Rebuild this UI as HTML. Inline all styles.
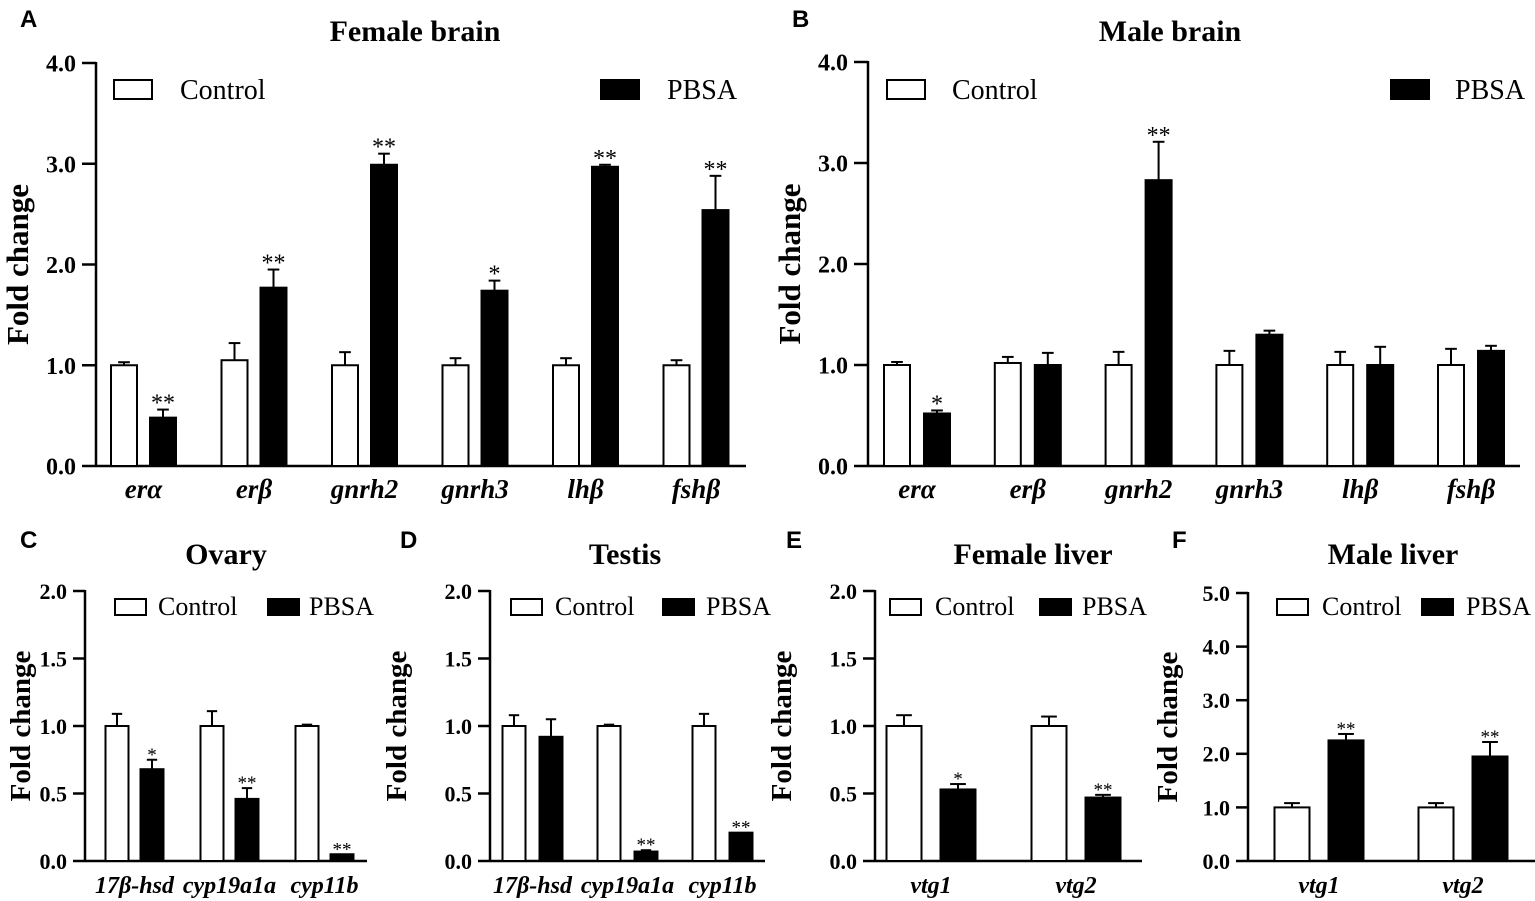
<!DOCTYPE html>
<html><head><meta charset="utf-8"><style>
body{margin:0;background:#fff;}
svg{display:block;font-family:"Liberation Serif",serif;}
</style></head><body>
<svg id="fig" width="1535" height="901" viewBox="0 0 1535 901"></svg>
<script>
// Panel A
const catsA=["erα","erβ","gnrh2","gnrh3","lhβ","fshβ"];
const ctrlA=[1.0,1.05,1.0,1.0,1.0,1.0];
const ctrlErrA=[0.03,0.17,0.13,0.07,0.07,0.05];
const pbsaA=[0.48,1.77,2.99,1.74,2.97,2.54];
const pbsaErrA=[0.08,0.18,0.11,0.10,0.02,0.34];
const sigA=["**","**","**","*","**","**"];
const ticksA=["0.0","1.0","2.0","3.0","4.0"];
// Panel B
const catsB=["erα","erβ","gnrh2","gnrh3","lhβ","fshβ"];
const ctrlB=[1.0,1.02,1.0,1.0,1.0,1.0];
const ctrlErrB=[0.03,0.06,0.13,0.14,0.13,0.16];
const pbsaB=[0.52,1.0,2.83,1.3,1.0,1.14];
const pbsaErrB=[0.03,0.12,0.38,0.04,0.18,0.05];
const sigB=["*","","**","","",""];
const ticksB=["0.0","1.0","2.0","3.0","4.0"];
// Panel C
const catsC=["17β-hsd","cyp19a1a","cyp11b"];
const ctrlC=[1.0,1.0,1.0];
const ctrlErrC=[0.09,0.11,0.01];
const pbsaC=[0.68,0.46,0.05];
const pbsaErrC=[0.07,0.08,0.0];
const sigC=["*","**","**"];
const ticksC=["0.0","0.5","1.0","1.5","2.0"];
// Panel D
const catsD=["17β-hsd","cyp19a1a","cyp11b"];
const ctrlD=[1.0,1.0,1.0];
const ctrlErrD=[0.08,0.01,0.09];
const pbsaD=[0.92,0.07,0.21];
const pbsaErrD=[0.13,0.01,0.0];
const sigD=["","**","**"];
const ticksD=["0.0","0.5","1.0","1.5","2.0"];
// Panel E
const catsE=["vtg1","vtg2"];
const ctrlE=[1.0,1.0];
const ctrlErrE=[0.08,0.07];
const pbsaE=[0.53,0.47];
const pbsaErrE=[0.04,0.02];
const sigE=["*","**"];
const ticksE=["0.0","0.5","1.0","1.5","2.0"];
// Panel F
const catsF=["vtg1","vtg2"];
const ctrlF=[1.0,1.0];
const ctrlErrF=[0.08,0.08];
const pbsaF=[2.25,1.95];
const pbsaErrF=[0.12,0.27];
const sigF=["**","**"];
const ticksF=["0.0","1.0","2.0","3.0","4.0","5.0"];

const NS="http://www.w3.org/2000/svg";
const svgEl=document.getElementById('fig');
const SERIF='"Liberation Serif", serif';
const SANS='"Liberation Sans", sans-serif';
function mk(tag,attrs,parent,text){
  const e=document.createElementNS(NS,tag);
  for(const k in attrs)e.setAttribute(k,attrs[k]);
  if(text!==undefined)e.textContent=text;
  (parent||svgEl).appendChild(e);return e;
}
function panel(o){
  const g=mk('g',{});
  
  
  const ymax=parseFloat(o.ticks[o.ticks.length-1]);
  const y=v=>o.y0-(v/ymax)*(o.y0-o.yTop);
  const xC=i=>o.c0+i*o.step;
  const xP=i=>o.c0+o.off+i*o.step;
  const l=mk('text',{x:o.lx,y:o.ly,'font-size':o.lfs,'font-weight':'bold','font-family':SANS},g,o.letter);
  
  
  const t=mk('text',{x:o.tx,y:o.ty,'font-size':o.tfs,'font-weight':'bold','text-anchor':'middle','font-family':SERIF},g,o.title);
  
  
  const yt=mk('text',{x:0,y:0,'font-size':o.yfs,'font-weight':'bold','text-anchor':'middle','font-family':SERIF,transform:`translate(${o.ytx},${(o.y0+o.yTop)/2}) rotate(-90)`},g,'Fold change');
  
  
  const ya=mk('line',{x1:o.ax,x2:o.ax,y1:o.yTop-1,y2:o.y0+1,stroke:'#000','stroke-width':2.5},g);
  
  
  const xa=mk('line',{x1:o.ax,x2:o.axEnd,y1:o.y0,y2:o.y0,stroke:'#000','stroke-width':2.5},g);
  
  
  o.ticks.forEach(tk=>{
    const yy=y(parseFloat(tk));
    mk('line',{x1:o.ax-o.tkl,x2:o.ax,y1:yy,y2:yy,stroke:'#000','stroke-width':2.5},g);
    const tl=mk('text',{x:o.ax-o.tkl-6,y:yy+o.tkfs*0.36,'font-size':o.tkfs,'font-weight':'bold','text-anchor':'end','font-family':SERIF},g,tk);
    
    
  });
  const hw=o.bw/2;
  function bar(cx,v,err,fill,name){
    const tp=y(v);
    if(err>0){
      const ey=y(v+err);
      mk('line',{x1:cx,x2:cx,y1:tp,y2:ey,stroke:'#000','stroke-width':2},g);
      mk('line',{x1:cx-hw*0.45,x2:cx+hw*0.45,y1:ey,y2:ey,stroke:'#000','stroke-width':2},g);
    }
    const r=mk('rect',{x:cx-hw,y:tp,width:o.bw,height:o.y0-tp,fill:fill,stroke:'#000','stroke-width':2},g);
    
    
  }
  o.cats.forEach((c,i)=>{
    bar(xC(i),o.ctrl[i],o.ctrlErr[i],'#fff','bar-control-'+c);
    bar(xP(i),o.pbsa[i],o.pbsaErr[i],'#000','bar-pbsa-'+c);
    if(o.sig[i]){
      const s=mk('text',{x:xP(i),y:y(o.pbsa[i]+o.pbsaErr[i])+1,'font-size':o.sfs,'text-anchor':'middle','font-family':SERIF},g,o.sig[i]);
      
      
    }
    const xl=mk('text',{x:(xC(i)+xP(i))/2,y:o.xly,'font-size':o.xfs,'font-weight':'bold','font-style':'italic','text-anchor':'middle','font-family':SERIF},g,c);
    
    
  });
  const lg=mk('g',{},g);
  
  
  mk('rect',{x:o.lg[0],y:o.lgy,width:o.lgw,height:o.lgh,fill:'#fff',stroke:'#000','stroke-width':2},lg);
  mk('text',{x:o.lg[1],y:o.lgy+o.lgh,'font-size':o.lgfs,'font-family':SERIF},lg,'Control');
  mk('rect',{x:o.lg[2],y:o.lgy,width:o.lgw,height:o.lgh,fill:'#000',stroke:'#000','stroke-width':2},lg);
  mk('text',{x:o.lg[3],y:o.lgy+o.lgh,'font-size':o.lgfs,'font-family':SERIF},lg,'PBSA');
}
const topCfg={y0:466,yTop:63,bw:26,step:110.5,off:39,tkl:14,tkfs:24,xfs:27,xly:498,yfs:31,tfs:30,ty:41,lfs:24,ly:27,sfs:24,lgy:80,lgw:38,lgh:19,lgfs:28};
panel(Object.assign({},topCfg,{id:'a',letter:'A',lx:20,title:'Female brain',tx:415,ytx:28,ax:96,axEnd:746,c0:124,
 cats:catsA,ctrl:ctrlA,ctrlErr:ctrlErrA,pbsa:pbsaA,pbsaErr:pbsaErrA,sig:sigA,ticks:ticksA,lg:[114,180,601,667]}));
panel(Object.assign({},topCfg,{id:'b',letter:'B',lx:792,title:'Male brain',tx:1170,ytx:800,ax:868,axEnd:1520,yTop:62,c0:897,step:110.8,off:40,
 cats:catsB,ctrl:ctrlB,ctrlErr:ctrlErrB,pbsa:pbsaB,pbsaErr:pbsaErrB,sig:sigB,ticks:ticksB,lg:[887,952,1391,1455]}));
const botCfg={y0:861,yTop:591,tkl:12,tkfs:22,xfs:24,xly:893,yfs:29,tfs:30,ty:564,lfs:24,ly:548,sfs:19,lgy:599,lgw:31,lgh:16,lgfs:26};
panel(Object.assign({},botCfg,{id:'c',letter:'C',lx:20,title:'Ovary',tx:226,ytx:30,ax:85,axEnd:367,c0:117,step:95,off:35,bw:23,
 cats:catsC,ctrl:ctrlC,ctrlErr:ctrlErrC,pbsa:pbsaC,pbsaErr:pbsaErrC,sig:sigC,ticks:ticksC,lg:[115,158,268,309]}));
panel(Object.assign({},botCfg,{id:'d',letter:'D',lx:400,title:'Testis',tx:625,ytx:406,ax:490,axEnd:765,c0:514,step:95,off:37,bw:23,
 cats:catsD,ctrl:ctrlD,ctrlErr:ctrlErrD,pbsa:pbsaD,pbsaErr:pbsaErrD,sig:sigD,ticks:ticksD,lg:[511,555,663,706]}));
panel(Object.assign({},botCfg,{id:'e',letter:'E',lx:786,title:'Female liver',tx:1033,ytx:791,ax:875,axEnd:1142,c0:904,step:145,off:54,bw:35,
 cats:catsE,ctrl:ctrlE,ctrlErr:ctrlErrE,pbsa:pbsaE,pbsaErr:pbsaErrE,sig:sigE,ticks:ticksE,lg:[890,935,1040,1082]}));
panel(Object.assign({},botCfg,{id:'f',letter:'F',lx:1172,title:'Male liver',tx:1393,ytx:1177,ax:1248,axEnd:1535,yTop:593,c0:1292,step:144,off:54,bw:35,
 cats:catsF,ctrl:ctrlF,ctrlErr:ctrlErrF,pbsa:pbsaF,pbsaErr:pbsaErrF,sig:sigF,ticks:ticksF,lg:[1277,1322,1422,1466]}));
</script>
</body></html>
